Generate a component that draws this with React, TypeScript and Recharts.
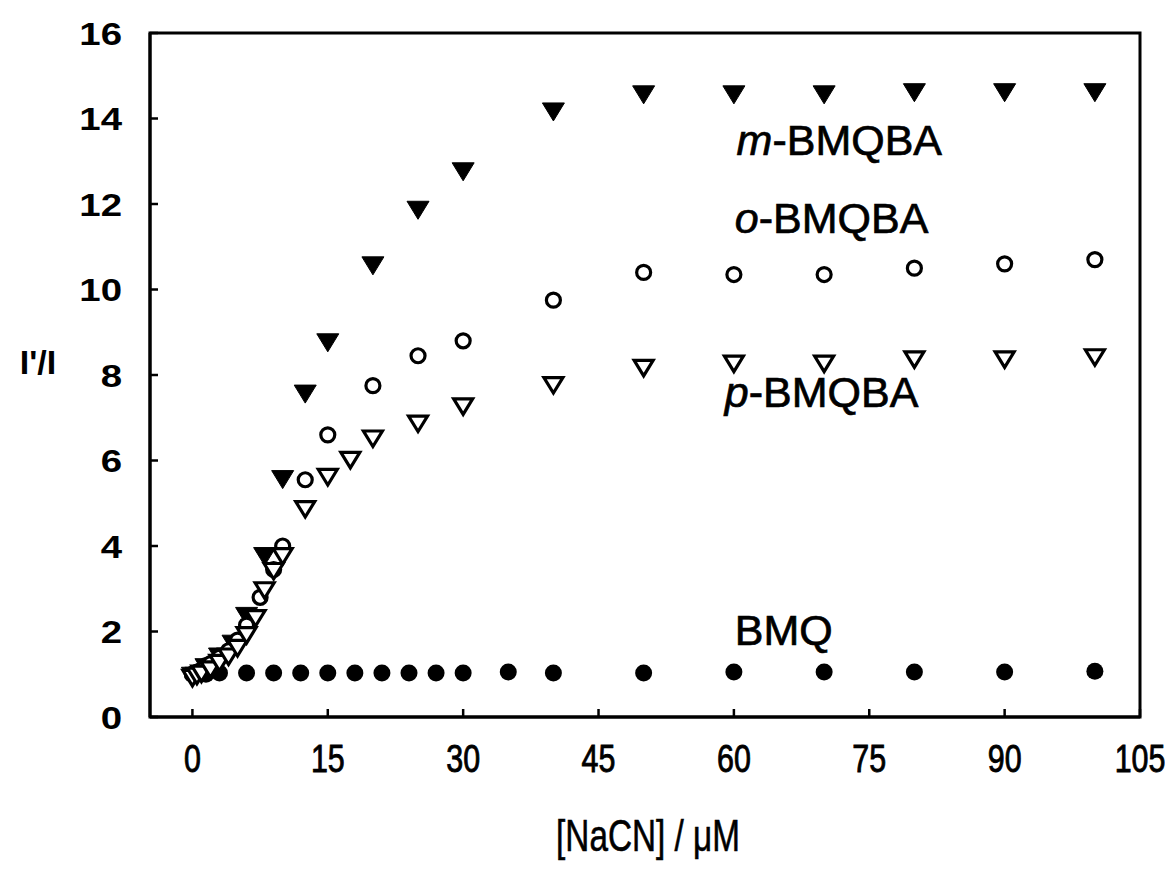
import React from 'react';
import { ScatterChart, Scatter, XAxis, YAxis, ReferenceArea, ReferenceDot } from 'recharts';

const xTicks = [0, 15, 30, 45, 60, 75, 90, 105];
const yTicks = [0, 2, 4, 6, 8, 10, 12, 14, 16];

const bmqX = [0, 1.5, 3, 6, 9, 12, 15, 18, 21, 24, 27, 30, 35, 40, 50, 60, 70, 80, 90, 100];
const bmqY = [1.0, 1.0, 1.03, 1.03, 1.03, 1.03, 1.03, 1.03, 1.03, 1.03, 1.03, 1.03, 1.05, 1.03, 1.03, 1.05, 1.05, 1.05, 1.05, 1.07];

const mX = [0, 1.5, 3, 4.5, 6, 8, 10, 12.5, 15, 20, 25, 30, 40, 50, 60, 70, 80, 90, 100];
const mY = [1.0, 1.2, 1.45, 1.75, 2.4, 3.8, 5.6, 7.6, 8.8, 10.6, 11.9, 12.8, 14.2, 14.6, 14.6, 14.6, 14.65, 14.65, 14.65];

const oX = [0, 0.5, 1, 1.5, 2, 3, 4, 5, 6, 7.5, 9, 10, 12.5, 15, 20, 25, 30, 40, 50, 60, 70, 80, 90, 100];
const oY = [1.0, 1.05, 1.1, 1.2, 1.25, 1.4, 1.55, 1.8, 2.15, 2.8, 3.45, 4.0, 5.55, 6.6, 7.75, 8.45, 8.8, 9.75, 10.4, 10.35, 10.35, 10.5, 10.6, 10.7];

const pX = [0, 0.5, 1, 2, 3, 4, 5, 6, 7, 8, 9, 10, 12.5, 15, 17.5, 20, 25, 30, 40, 50, 60, 70, 80, 90, 100];
const pY = [0.95, 1.0, 1.05, 1.15, 1.3, 1.45, 1.65, 1.95, 2.35, 3.0, 3.45, 3.8, 4.9, 5.65, 6.05, 6.55, 6.9, 7.3, 7.8, 8.2, 8.3, 8.3, 8.4, 8.4, 8.45];

const labelNames = ['m', 'o', 'p', 'BMQ'];
const labelX = [60.3, 60.1, 59.0, 60.1];
const labelY = [13.15, 11.32, 7.25, 1.68];

const toPts = (xs: number[], ys: number[]) => xs.map((x, i) => ({ x, y: ys[i] }));

const bmqData = toPts(bmqX, bmqY);
const mData = toPts(mX, mY);
const oData = toPts(oX, oY);
const pData = toPts(pX, pY);

const FONT = 'Liberation Sans, Arial, sans-serif';

const FilledCircle = (props: any) => {
  const { cx, cy } = props;
  return <circle cx={cx} cy={cy} r={8.5} fill="#000" stroke="none" />;
};
const OpenCircle = (props: any) => {
  const { cx, cy } = props;
  return <circle cx={cx} cy={cy} r={7} fill="#fff" stroke="#000" strokeWidth={3.2} />;
};
const FilledTri = (props: any) => {
  const { cx, cy } = props;
  const d = `M${cx - 11},${cy - 7} L${cx + 11},${cy - 7} L${cx},${cy + 11} Z`;
  return <path d={d} fill="#000" stroke="#000" strokeWidth={1} />;
};
const OpenTri = (props: any) => {
  const { cx, cy } = props;
  const d = `M${cx - 9.5},${cy - 6} L${cx + 9.5},${cy - 6} L${cx},${cy + 9.5} Z`;
  return <path d={d} fill="#fff" stroke="#000" strokeWidth={3.2} strokeLinejoin="miter" />;
};

const annotationShape = (name: string) => (props: any) => {
  const { cx, cy } = props;
  const common = { x: cx, y: cy, fontFamily: FONT, fontSize: 43, fill: '#000', stroke: '#000', strokeWidth: 0.7 } as any;
  if (name === 'BMQ') {
    return <text {...common}>BMQ</text>;
  }
  return (
    <text {...common}>
      <tspan fontStyle="italic">{name}</tspan>
      <tspan>-BMQBA</tspan>
    </text>
  );
};

const YTick = (props: any) => {
  const { x, y, payload } = props;
  return (
    <text transform={`translate(${x},${y}) scale(1.2,1)`} x={0} y={0} dy="0.36em" textAnchor="end" fontFamily={FONT} fontWeight="bold" fontSize={32} fill="#000">
      {payload.value}
    </text>
  );
};

const XTick = (props: any) => {
  const { x, y, payload } = props;
  return (
    <text transform={`translate(${x},${y}) scale(0.8,1)`} x={0} y={0} dy="0.72em" textAnchor="middle" fontFamily={FONT} fontSize={38} fill="#000" stroke="#000" strokeWidth={0.9}>
      {payload.value}
    </text>
  );
};

const XLabel = (props: any) => {
  const { viewBox } = props;
  const cx = viewBox.x + viewBox.width / 2;
  return (
    <text transform={`translate(${cx + 3},843) scale(0.74,1)`} x={0} y={0} textAnchor="middle" fontFamily={FONT} fontSize={45} fill="#000" stroke="#000" strokeWidth={0.6}>
      [NaCN] / μM
    </text>
  );
};

const YLabel = () => {
  return (
    <text x={30} y={366} textAnchor="middle" fontFamily={FONT} fontWeight="bold" fontSize={34} fill="#000">
      I'/I
    </text>
  );
};

export default function App() {
  return (
    <div style={{ width: 1165, height: 853, background: '#fff' }}>
      <ScatterChart width={1165} height={853} margin={{ top: 25, right: 33, bottom: 0, left: 0 }}>
        <XAxis
          type="number"
          dataKey="x"
          domain={[-4.7, 105]}
          ticks={xTicks}
          allowDataOverflow
          height={144}
          tickSize={-8}
          tickMargin={36}
          tick={<XTick />}
          axisLine={{ stroke: '#000', strokeWidth: 3 }}
          tickLine={{ stroke: '#000', strokeWidth: 2.5 }}
          label={<XLabel />}
        />
        <YAxis
          type="number"
          dataKey="y"
          domain={[0, 16]}
          ticks={yTicks}
          allowDataOverflow
          width={142}
          tickSize={-8}
          tickMargin={36}
          tick={<YTick />}
          axisLine={{ stroke: '#000', strokeWidth: 3 }}
          tickLine={{ stroke: '#000', strokeWidth: 2.5 }}
          label={<YLabel />}
        />
        <ReferenceArea x1={-4.7} x2={105} y1={0} y2={16} fill="none" stroke="#000" strokeWidth={3} ifOverflow="visible" />
        <Scatter data={bmqData} shape={<FilledCircle />} isAnimationActive={false} />
        <Scatter data={mData} shape={<FilledTri />} isAnimationActive={false} />
        <Scatter data={oData} shape={<OpenCircle />} isAnimationActive={false} />
        <Scatter data={pData} shape={<OpenTri />} isAnimationActive={false} />
        {labelNames.map((n, i) => (
          <ReferenceDot key={n} x={labelX[i]} y={labelY[i]} r={0} shape={annotationShape(n)} ifOverflow="visible" />
        ))}
      </ScatterChart>
    </div>
  );
}
